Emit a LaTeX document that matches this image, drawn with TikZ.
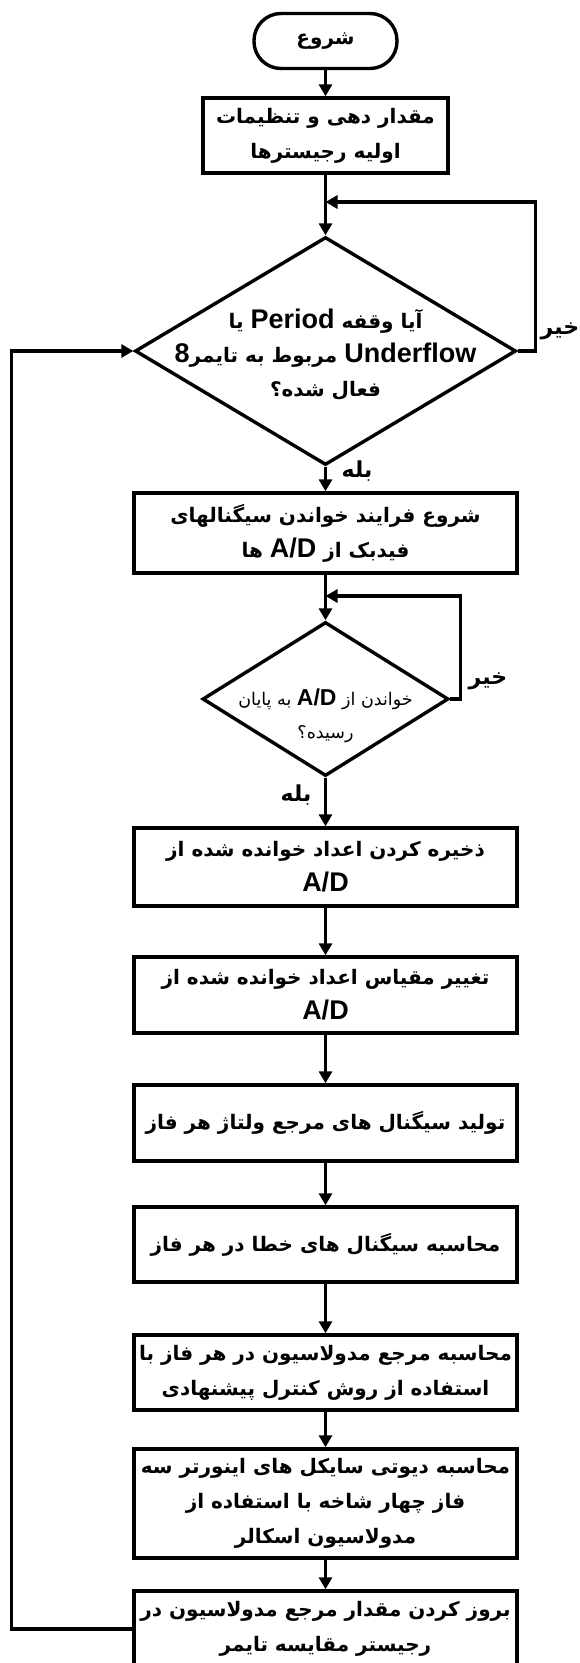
\documentclass[tikz,border=0pt]{standalone}
\usepackage{fontspec}
\usetikzlibrary{arrows.meta,shapes.geometric}
\TeXXeTstate=1
\newfontfamily\fafont[Script=Arabic]{DejaVu Sans}
\newfontfamily\lafont{Liberation Sans}
\newcommand\R[1]{\beginR #1\endR}
\newcommand\Lt[1]{\beginL{\lafont\bfseries\fontsize{27}{27}\selectfont #1}\endL}
\newcommand\Ls[1]{\beginL{\lafont\bfseries\fontsize{23}{23}\selectfont #1}\endL}
\begin{document}
\begin{tikzpicture}[x=1pt,y=-1pt,line width=3.4pt,
  arr/.style={-{Triangle[length=12pt,width=13pt]}},
  box/.style={draw,rectangle,minimum width=383pt,inner sep=0pt,align=center,
    font=\fafont\bfseries\fontsize{20}{35}\selectfont},
  term/.style={draw,rectangle,rounded corners=27pt,minimum width=143pt,minimum height=55pt,
    inner sep=0pt,font=\fafont\bfseries\fontsize{20}{35}\selectfont},
  dia/.style={draw,diamond,inner sep=0pt},
  dtxt/.style={align=center,inner sep=0pt,font=\fafont\bfseries\fontsize{20}{34}\selectfont},
  stxt/.style={align=center,inner sep=0pt,font=\fafont\fontsize{17.5}{33}\selectfont},
  lbl/.style={inner sep=0pt,font=\fafont\bfseries\fontsize{22}{24}\selectfont}]
\useasboundingbox (0,0) rectangle (579,1663);
\clip (0,0) rectangle (579,1663);

\node[term] (start) at (325.5,41) {\R{شروع}};
\node[box,minimum width=245pt,minimum height=75pt] (b1) at (325.5,135.5)
  {\R{مقدار دهی و تنظیمات}\\\R{اولیه رجیسترها}};
\node[dia,minimum width=381pt,minimum height=228pt] (d1) at (325.5,351) {};
\node[dtxt] (t1) at (325.5,355)
  {\R{آیا وقفه \Lt{Period} یا}\\\R{\Lt{Underflow} مربوط به تایمر\Lt{8}}\\\R{فعال شده؟}};
\node[box,minimum height=80pt] (b3) at (325.5,533)
  {\R{شروع فرایند خواندن سیگنالهای}\\\R{فیدبک از \Lt{A/D} ها}};
\node[dia,minimum width=246pt,minimum height=154pt] (d2) at (325.5,699) {};
\node[stxt] (t2) at (325.5,716)
  {\R{خواندن از \Ls{A/D} به پایان}\\\R{رسیده؟}};
\node[box,minimum height=78pt] (b4) at (325.5,867)
  {\R{ذخیره کردن اعداد خوانده شده از}\\\Lt{A/D}};
\node[box,minimum height=76pt] (b5) at (325.5,995)
  {\R{تغییر مقیاس اعداد خوانده شده از}\\\Lt{A/D}};
\node[box,minimum height=76pt] (b6) at (325.5,1123)
  {\R{تولید سیگنال های مرجع ولتاژ هر فاز}};
\node[box,minimum height=75pt] (b7) at (325.5,1244.5)
  {\R{محاسبه سیگنال های خطا در هر فاز}};
\node[box,minimum height=75pt] (b8) at (325.5,1372.5)
  {\R{محاسبه مرجع مدولاسیون در هر فاز با}\\\R{استفاده از روش کنترل پیشنهادی}};
\node[box,minimum height=109pt] (b9) at (325.5,1503.5)
  {\R{محاسبه دیوتی سایکل های اینورتر سه}\\\R{فاز چهار شاخه با استفاده از}\\\R{مدولاسیون اسکالر}};
\node[box,minimum height=76pt] (b10) at (325.5,1629)
  {\R{بروز کردن مقدار مرجع مدولاسیون در}\\\R{رجیستر مقایسه تایمر}};

\coordinate (j1) at (325.5,202);
\coordinate (j2) at (325.5,596);

\draw[arr] (start) -- (b1);
\draw[arr] (b1) -- (d1);
\draw[arr] (d1.east) -- ++(18,0) |- (j1);
\node[lbl] (no1) at (560,331) {\R{خیر}};
\draw[arr] (d1) -- (b3);
\node[lbl] (yes1) at (357,471) {\R{بله}};
\draw[arr] (b3) -- (d2);
\draw[arr] (d2.east) -- ++(10,0) |- (j2);
\node[lbl] (no2) at (488,681) {\R{خیر}};
\draw[arr] (d2) -- (b4);
\node[lbl] (yes2) at (296,795) {\R{بله}};
\draw[arr] (b4) -- (b5);
\draw[arr] (b5) -- (b6);
\draw[arr] (b6) -- (b7);
\draw[arr] (b7) -- (b8);
\draw[arr] (b8) -- (b9);
\draw[arr] (b9) -- (b10);
\draw[arr] (b10.west) -- ++(-121,0) |- (d1.west);
\end{tikzpicture}
\end{document}
